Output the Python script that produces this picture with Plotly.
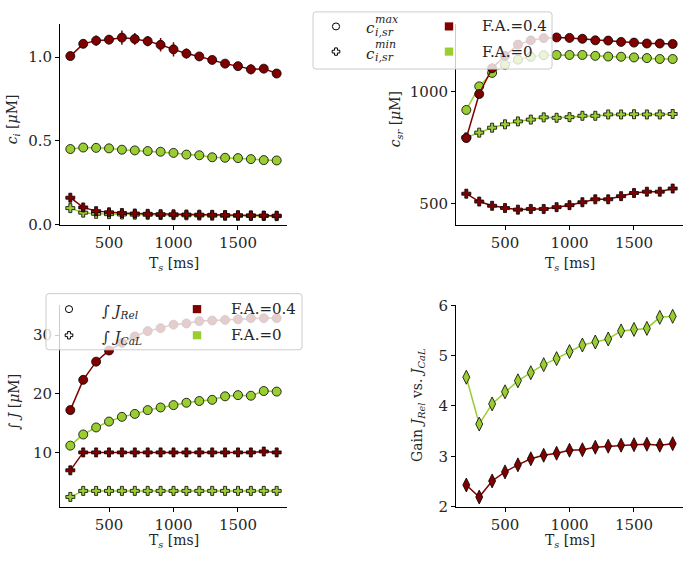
import plotly.graph_objects as go

W, H = 686, 565
RED = "#800000"
GREEN = "#9acd32"
FONT = "DejaVu Serif"

Ts = [200, 300, 400, 500, 600, 700, 800, 900, 1000, 1100, 1200, 1300, 1400, 1500, 1600, 1700, 1800]

# c_i [uM]
ci_max_fa04 = [1.006, 1.079, 1.098, 1.104, 1.116, 1.108, 1.095, 1.073, 1.046, 1.021, 1.004, 0.983, 0.961, 0.946, 0.927, 0.931, 0.902]
ci_max_fa04_err = [0.01, 0.02, 0.03, 0.028, 0.043, 0.035, 0.03, 0.04, 0.042, 0.03, 0.02, 0.02, 0.02, 0.02, 0.03, 0.02, 0.02]
ci_max_fa0 = [0.452, 0.461, 0.459, 0.456, 0.448, 0.444, 0.440, 0.436, 0.429, 0.419, 0.415, 0.403, 0.400, 0.398, 0.392, 0.386, 0.384]
ci_min_fa04 = [0.162, 0.104, 0.082, 0.075, 0.071, 0.068, 0.066, 0.064, 0.063, 0.062, 0.061, 0.060, 0.059, 0.058, 0.057, 0.056, 0.055]
ci_min_fa0 = [0.100, 0.073, 0.066, 0.064, 0.062, 0.061, 0.060, 0.059, 0.058, 0.057, 0.056, 0.055, 0.054, 0.054, 0.053, 0.053, 0.052]

# c_sr [uM]
csr_max_fa04 = [792, 988, 1103, 1158, 1208, 1227, 1237, 1240, 1238, 1234, 1227, 1226, 1220, 1217, 1213, 1213, 1211]
csr_max_fa0 = [917, 1022, 1082, 1118, 1141, 1154, 1161, 1162, 1162, 1162, 1158, 1155, 1154, 1151, 1148, 1144, 1144]
csr_min_fa04 = [544, 509, 490, 480, 473, 476, 476, 484, 493, 506, 519, 519, 533, 547, 553, 553, 567]
csr_min_fa0 = [795, 816, 838, 853, 866, 874, 884, 882, 885, 891, 891, 897, 897, 898, 897, 897, 899]

# integrated fluxes [uM]
jrel_fa04 = [17.25, 22.4, 25.5, 27.4, 28.7, 29.8, 30.7, 31.2, 31.8, 32.0, 32.4, 32.5, 32.6, 32.7, 32.9, 32.9, 32.9]
jrel_fa0 = [11.2, 13.1, 14.3, 15.3, 16.1, 16.6, 17.25, 17.7, 18.1, 18.5, 18.8, 19.0, 19.6, 19.8, 19.7, 20.5, 20.4]
jcal_fa04 = [7.0, 10.05, 10.05, 10.05, 10.05, 10.05, 10.05, 10.05, 10.05, 10.05, 10.05, 10.05, 10.05, 10.05, 10.05, 10.2, 10.05]
jcal_fa0 = [2.47, 3.5, 3.5, 3.5, 3.5, 3.5, 3.5, 3.5, 3.5, 3.5, 3.5, 3.5, 3.5, 3.5, 3.5, 3.5, 3.5]

# gain
gain_fa04 = [2.43, 2.19, 2.51, 2.69, 2.83, 2.95, 3.02, 3.06, 3.12, 3.13, 3.18, 3.20, 3.22, 3.23, 3.24, 3.22, 3.25]
gain_fa0 = [4.57, 3.64, 4.04, 4.28, 4.50, 4.66, 4.82, 4.94, 5.08, 5.21, 5.27, 5.33, 5.49, 5.52, 5.54, 5.76, 5.78]


def px(x):
    return x / W


def py(y):
    return 1 - y / H


fig = go.Figure()


def add(y, color, symbol, size, xa, ya, err=None):
    kw = {}
    if err is not None:
        kw["error_y"] = dict(type="data", array=err, color=color, thickness=1.5, width=0)
    fig.add_trace(go.Scatter(
        x=Ts, y=y, mode="lines+markers", xaxis=xa, yaxis=ya, showlegend=False,
        line=dict(color=color, width=1.5),
        marker=dict(symbol=symbol, size=size, color=color, line=dict(color="black", width=0.8)),
        **kw))


# top-left
add(ci_max_fa0, GREEN, "circle", 9, "x", "y")
add(ci_min_fa0, GREEN, "cross", 7.5, "x", "y")
add(ci_max_fa04, RED, "circle", 9, "x", "y", err=ci_max_fa04_err)
add(ci_min_fa04, RED, "cross", 7.5, "x", "y")
# top-right
add(csr_max_fa0, GREEN, "circle", 9, "x2", "y2")
add(csr_min_fa0, GREEN, "cross", 7.5, "x2", "y2")
add(csr_max_fa04, RED, "circle", 9, "x2", "y2")
add(csr_min_fa04, RED, "cross", 7.5, "x2", "y2")
# bottom-left
add(jrel_fa0, GREEN, "circle", 9, "x3", "y3")
add(jcal_fa0, GREEN, "cross", 7.5, "x3", "y3")
add(jrel_fa04, RED, "circle", 9, "x3", "y3")
add(jcal_fa04, RED, "cross", 7.5, "x3", "y3")
# bottom-right
add(gain_fa0, GREEN, "diamond-tall", 10, "x4", "y4")
add(gain_fa04, RED, "diamond-tall", 10, "x4", "y4")

axstyle = dict(showline=True, linecolor="black", linewidth=1, ticks="outside", ticklen=4,
               tickcolor="black", tickwidth=1, showgrid=False, zeroline=False,
               tickfont=dict(family=FONT, size=15, color="#262626"))

L1, R1 = 60, 287
L2, R2 = 456, 683
T1, B1 = 15, 223
T2, B2 = 306, 514
xr = [120, 1880]
xt = [500, 1000, 1500]

fig.update_layout(
    xaxis=dict(domain=[px(L1), px(R1)], anchor="y", range=xr, tickvals=xt, **axstyle),
    yaxis=dict(domain=[py(B1), py(T1)], anchor="x", range=[0, 1.2], tickvals=[0, 0.5, 1.0], tickformat=".1f", **axstyle),
    xaxis2=dict(domain=[px(L2), px(R2)], anchor="y2", range=xr, tickvals=xt, **axstyle),
    yaxis2=dict(domain=[py(B1), py(T1)], anchor="x2", range=[405, 1302], tickvals=[500, 1000], **axstyle),
    xaxis3=dict(domain=[px(L1), px(R1)], anchor="y3", range=xr, tickvals=xt, **axstyle),
    yaxis3=dict(domain=[py(B2), py(T2)], anchor="x3", range=[0.82, 35.1], tickvals=[10, 20, 30], **axstyle),
    xaxis4=dict(domain=[px(L2), px(R2)], anchor="y4", range=xr, tickvals=xt, **axstyle),
    yaxis4=dict(domain=[py(B2), py(T2)], anchor="x4", range=[2, 6], tickvals=[2, 3, 4, 5, 6], **axstyle),
    width=W, height=H, margin=dict(l=0, r=0, t=0, b=0),
    plot_bgcolor="white", paper_bgcolor="white",
    font=dict(family=FONT, size=14, color="#262626"),
)

shapes = []
annotations = []


def text(x, y, s, size=14, angle=0, xanchor="center", yanchor="middle"):
    annotations.append(dict(x=px(x), y=py(y), xref="paper", yref="paper", text=s, showarrow=False,
                            textangle=angle, xanchor=xanchor, yanchor=yanchor,
                            font=dict(family=FONT, size=size, color="#262626")))


# axis titles
xt_title = "T<sub><i>s</i></sub> [ms]"
text((L1 + R1) / 2, 263, xt_title)
text((L2 + R2) / 2, 263, xt_title)
text((L1 + R1) / 2, 549, xt_title)
text((L2 + R2) / 2, 549, xt_title)
text(13, 114, "<i>c<sub>i</sub></i> [<i>μ</i>M]", angle=-90)
text(396, 114, "<i>c<sub>sr</sub></i> [<i>μ</i>M]", angle=-90)
text(14, 406, "∫ <i>J</i> [<i>μ</i>M]", angle=-90)
text(418, 410, "Gain <i>J<sub>Rel</sub></i> vs. <i>J<sub>CaL</sub></i>", angle=-90)


def rounded_box(x0, y0, x1, y1, r=3):
    X = lambda v: px(v)
    Y = lambda v: py(v)
    path = (f"M {X(x0 + r)},{Y(y0)} L {X(x1 - r)},{Y(y0)} Q {X(x1)},{Y(y0)} {X(x1)},{Y(y0 + r)} "
            f"L {X(x1)},{Y(y1 - r)} Q {X(x1)},{Y(y1)} {X(x1 - r)},{Y(y1)} "
            f"L {X(x0 + r)},{Y(y1)} Q {X(x0)},{Y(y1)} {X(x0)},{Y(y1 - r)} "
            f"L {X(x0)},{Y(y0 + r)} Q {X(x0)},{Y(y0)} {X(x0 + r)},{Y(y0)} Z")
    shapes.append(dict(type="path", path=path, xref="paper", yref="paper", layer="above",
                       fillcolor="rgba(255,255,255,0.8)", line=dict(color="#cccccc", width=1)))


def circle(cx, cy, r=3.6):
    shapes.append(dict(type="circle", xref="paper", yref="paper", layer="above",
                       x0=px(cx - r), x1=px(cx + r), y0=py(cy + r), y1=py(cy - r),
                       fillcolor="white", line=dict(color="black", width=1)))


def plus(cx, cy, a=3.8, t=1.4):
    pts = [(-t, -a), (t, -a), (t, -t), (a, -t), (a, t), (t, t), (t, a), (-t, a), (-t, t), (-a, t), (-a, -t), (-t, -t)]
    path = "M " + " L ".join(f"{px(cx + dx)},{py(cy + dy)}" for dx, dy in pts) + " Z"
    shapes.append(dict(type="path", path=path, xref="paper", yref="paper", layer="above",
                       fillcolor="white", line=dict(color="black", width=1)))


def square(cx, cy, color, s=4.2):
    shapes.append(dict(type="rect", xref="paper", yref="paper", layer="above",
                       x0=px(cx - s), x1=px(cx + s), y0=py(cy + s), y1=py(cy - s),
                       fillcolor=color, line=dict(width=0)))


# top legend
rounded_box(313, 3, 552, 62)
circle(336, 18)
plus(336, 44)
square(449, 18, RED)
square(449, 44, GREEN)
for yc, sup in [(18, "max"), (44, "min")]:
    text(364, yc + 2, "<i>c</i>", size=15, xanchor="left")
    text(373, yc - 7, f"<i>{sup}</i>", size=11, xanchor="left")
    text(373, yc + 6, "<i>i,sr</i>", size=11, xanchor="left")
text(480, 18, "F.A.=0.4", size=15, xanchor="left")
text(480, 44, "F.A.=0", size=15, xanchor="left")

# bottom legend
rounded_box(46, 294, 302, 352)
circle(69, 310)
plus(69, 337)
square(197, 310, RED)
square(197, 337, GREEN)
text(100, 312, "∫ <i>J<sub>Rel</sub></i>", size=15, xanchor="left")
text(100, 339, "∫ <i>J<sub>CaL</sub></i>", size=15, xanchor="left")
text(229, 310, "F.A.=0.4", size=15, xanchor="left")
text(229, 337, "F.A.=0", size=15, xanchor="left")

fig.update_layout(shapes=shapes, annotations=annotations)
fig.write_html("out.html", config={"displayModeBar": False},
               post_script="document.body.style.margin='0';document.body.style.overflow='hidden';")
